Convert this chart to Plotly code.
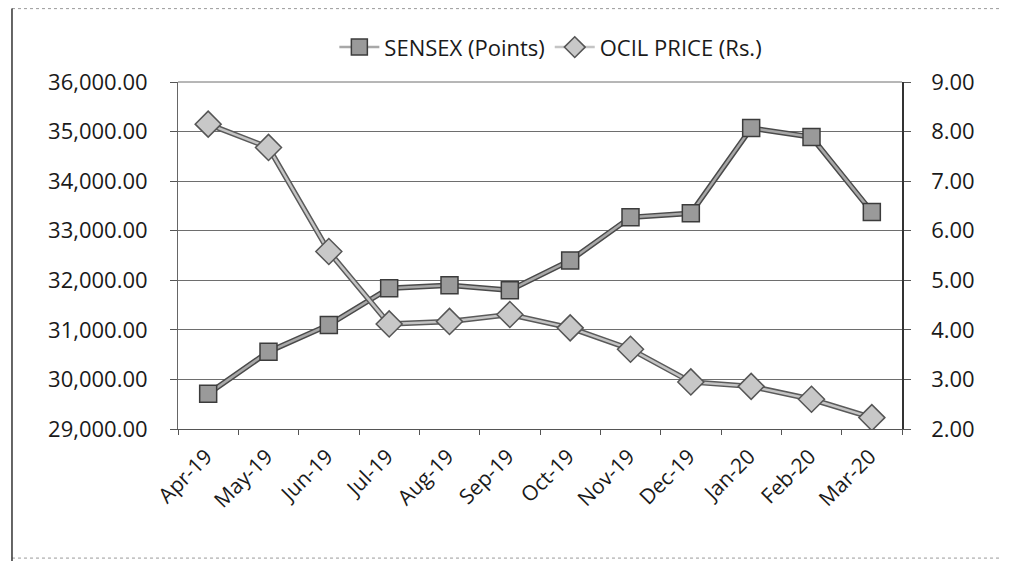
import plotly.graph_objects as go

months = ["Apr-19", "May-19", "Jun-19", "Jul-19", "Aug-19", "Sep-19",
          "Oct-19", "Nov-19", "Dec-19", "Jan-20", "Feb-20", "Mar-20"]
sensex = [29710, 30560, 31100, 31840, 31900, 31800,
          32400, 33270, 33350, 35070, 34890, 33380]
ocil_price = [8.15, 7.68, 5.58, 4.12, 4.17, 4.31,
              4.04, 3.61, 2.95, 2.86, 2.60, 2.23]

left_ticks = [29000, 30000, 31000, 32000, 33000, 34000, 35000, 36000]
right_ticks = [2, 3, 4, 5, 6, 7, 8, 9]

FONT = "Open Sans"
fig = go.Figure()

fig.add_trace(go.Scatter(x=months, y=sensex, mode="lines",
                         line=dict(color="#4a4a4a", width=5.5),
                         showlegend=False, hoverinfo="skip"))
fig.add_trace(go.Scatter(x=months, y=sensex, mode="lines+markers",
                         name="SENSEX (Points)",
                         line=dict(color="#a8a8a8", width=2.5),
                         marker=dict(symbol="square", size=17, color="#9a9a9a",
                                     line=dict(color="#3c3c3c", width=1.5))))

fig.add_trace(go.Scatter(x=months, y=ocil_price, mode="lines", yaxis="y2",
                         line=dict(color="#5a5a5a", width=5.5),
                         showlegend=False, hoverinfo="skip"))
fig.add_trace(go.Scatter(x=months, y=ocil_price, mode="lines+markers", yaxis="y2",
                         name="OCIL PRICE (Rs.)",
                         line=dict(color="#c4c4c4", width=2.5),
                         marker=dict(symbol="diamond", size=20, color="#c8c8c8",
                                     line=dict(color="#555555", width=1.5))))

fig.update_layout(
    width=1009, height=561,
    margin=dict(l=170, r=115, t=74, b=140, autoexpand=False),
    paper_bgcolor="white", plot_bgcolor="white",
    font=dict(family=FONT, size=21, color="#1a1a1a"),
    showlegend=True,
    legend=dict(orientation="h", x=0.515, xanchor="center", y=1.10, yanchor="middle",
                font=dict(family=FONT, size=22, color="#1a1a1a"),
                bgcolor="rgba(0,0,0,0)", itemwidth=40, tracegroupgap=0),
    xaxis=dict(type="category", range=[-0.5, len(months) - 0.5],
               tickangle=-45, showgrid=False, automargin=False,
               showline=True, linecolor="#555", linewidth=1,
               ticks="outside", tickson="boundaries", ticklen=5, tickcolor="#555",
               ticklabelstandoff=6, ticklabelshift=-2,
               tickfont=dict(family=FONT, size=21)),
    yaxis=dict(range=[29000, 36000], tickvals=left_ticks, automargin=False,
               tickformat=",.2f", showgrid=True, gridcolor="#6e6e6e", gridwidth=1,
               showline=True, linecolor="#666", linewidth=1,
               ticks="outside", ticklen=7, tickcolor="#555",
               ticklabelstandoff=18,
               tickfont=dict(family=FONT, size=22), zeroline=False),
    yaxis2=dict(range=[2, 9], tickvals=right_ticks, tickformat=".2f", automargin=False,
                overlaying="y", side="right", showgrid=False,
                showline=True, linecolor="#333", linewidth=1.5,
                ticks="outside", ticklen=7, tickcolor="#555",
                ticklabelstandoff=16,
                tickfont=dict(family=FONT, size=22), zeroline=False),
)

# outer chart border (as in the scanned figure)
fig.add_shape(type="line", xref="paper", yref="paper",
              x0=-0.2293, x1=1.25, y0=1.2115, y1=1.2115,
              line=dict(color="#9a9a9a", width=1, dash="dot"))
fig.add_shape(type="line", xref="paper", yref="paper",
              x0=-0.2293, x1=1.25, y0=-0.372, y1=-0.372,
              line=dict(color="#9a9a9a", width=1, dash="dot"))
fig.add_shape(type="line", xref="paper", yref="paper",
              x0=-0.2293, x1=-0.2293, y0=-0.42, y1=1.2115,
              line=dict(color="#333", width=1.5))
fig.add_shape(type="line", xref="paper", yref="paper",
              x0=0, x1=1, y0=1, y1=1, line=dict(color="#6e6e6e", width=1))

fig.write_html("out.html")
